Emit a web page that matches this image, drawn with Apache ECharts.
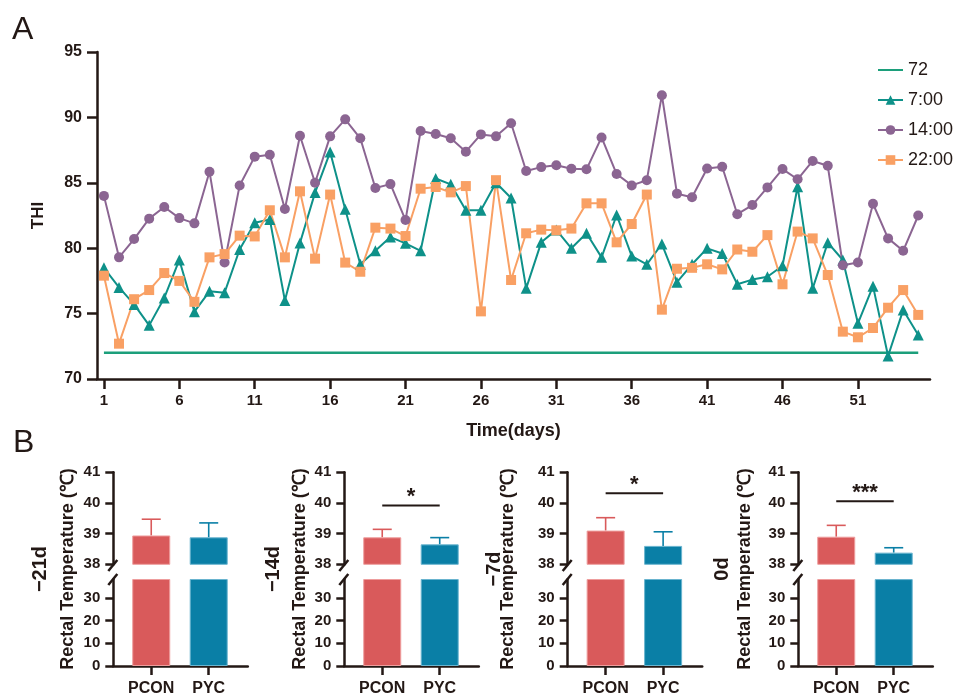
<!DOCTYPE html>
<html><head><meta charset="utf-8">
<script src="https://cdn.jsdelivr.net/npm/echarts@6/dist/echarts.min.js"></script>
<style>html,body{margin:0;padding:0;background:#fff}#c{width:956px;height:697px}</style>
</head><body><div id="c"></div>
<script>
// ---------- Panel A data ----------
const seriesNames = ['72', '7:00', '14:00', '22:00'];
const thresholdValue = 72;
const thresholdDays = [1, 55];
const dayTicks = [1, 6, 11, 16, 21, 26, 31, 36, 41, 46, 51];
const thi7 = [78.5,77.0,75.7,74.1,76.2,79.1,75.15,76.7,76.6,79.9,81.95,82.2,76.0,80.4,84.25,87.35,82.97,78.77,79.8,80.85,
  80.37,79.8,85.33,84.88,82.9,82.9,85.0,83.84,76.93,80.45,81.4,79.99,81.14,79.3,82.54,79.4,78.77,80.32,77.4,
  78.77,79.99,79.6,77.24,77.6,77.82,78.66,84.7,76.93,80.42,79.1,74.26,77.1,71.76,75.27,73.36];
const thi14 = [84.0,79.3,80.7,82.26,83.15,82.3,81.9,85.85,78.9,84.8,87.0,87.15,83.0,88.6,85.0,88.55,89.85,88.4,84.6,84.9,
  82.15,88.96,88.73,88.4,87.38,88.7,88.55,89.55,85.9,86.2,86.34,86.08,86.03,88.47,85.67,84.8,85.2,91.7,84.17,
  83.9,86.1,86.23,82.6,83.3,84.65,86.05,85.27,86.67,86.3,78.7,78.9,83.4,80.75,79.8,82.5];
const thi22 = [77.9,72.7,76.1,76.8,78.1,77.5,75.9,79.3,79.55,80.96,80.9,82.9,79.3,84.35,79.2,84.1,78.9,78.2,81.57,81.5,
  80.93,84.55,84.68,84.27,84.75,75.17,85.2,77.57,81.14,81.42,81.37,81.5,83.43,83.43,80.45,81.85,84.1,75.3,78.43,
  78.5,78.77,78.38,79.9,79.73,81.0,77.24,81.27,80.75,77.95,73.62,73.19,73.9,75.45,76.8,74.9];
const thiTicks = [70, 75, 80, 85, 90, 95];

// ---------- Panel B data ----------
const groups = ['PCON', 'PYC'];
const phases = ['\u221221d', '\u221214d', '\u22127d', '0d'];
const pconMean = [38.94, 38.88, 39.10, 38.90];
const pconUpper = [39.47, 39.14, 39.52, 39.27];
const pycMean = [38.88, 38.65, 38.60, 38.38];
const pycUpper = [39.35, 38.87, 39.06, 38.54];
const sigLabel = ['', '*', '*', '***'];
const sigLevel = [null, 39.92, 40.32, 40.06];
const upperTicks = [38, 39, 40, 41];
const lowerTicks = [0, 10, 20, 30];

// ---------- styles ----------
const INK = '#231815';
const FF = '"Liberation Sans", Arial, sans-serif';
const colors = { '72': '#1c9f7b', '7:00': '#0e9189', '14:00': '#8b6592', '22:00': '#f9a064' };
const barColors = ['#d95a5b', '#0a7fa6'];
const barBorders = ['#ee9d9d', '#69b4cf'];

const grids = [{ left: 97, top: 52, width: 833, height: 327 }];
const xAxes = [{
  type: 'value', gridIndex: 0, min: 0.54, max: 55.78,
  axisLine: { onZero: false, lineStyle: { color: INK, width: 2.5 } },
  axisTick: { customValues: dayTicks, length: 10, lineStyle: { color: INK, width: 2.5 } },
  axisLabel: { customValues: dayTicks, margin: 14, color: INK, fontSize: 15, fontWeight: 'bold', fontFamily: FF },
  splitLine: { show: false },
  name: 'Time(days)', nameLocation: 'middle', nameGap: 43,
  nameTextStyle: { color: INK, fontSize: 18, fontWeight: 'bold', fontFamily: FF }
}];
const yAxes = [{
  type: 'value', gridIndex: 0, min: 70, max: 95, interval: 5,
  axisLine: { show: true, onZero: false, lineStyle: { color: INK, width: 2.5 } },
  axisTick: { show: true, length: 10, lineStyle: { color: INK, width: 2.5 } },
  axisLabel: { customValues: thiTicks, margin: 15, color: INK, fontSize: 16, fontWeight: 'bold', fontFamily: FF },
  splitLine: { show: false },
  name: 'THI', nameLocation: 'middle', nameGap: 50, nameRotate: 90,
  nameTextStyle: { color: INK, fontSize: 17, fontWeight: 'bold', fontFamily: FF }
}];

const series = [
  { name: '72', type: 'line', xAxisIndex: 0, yAxisIndex: 0, symbol: 'none',
    data: thresholdDays.map(d => [d, thresholdValue]), color: colors['72'], lineStyle: { width: 2.5 } },
  { name: '7:00', type: 'line', xAxisIndex: 0, yAxisIndex: 0, symbol: 'triangle', symbolSize: 11,
    data: thi7.map((v, i) => [i + 1, v]), color: colors['7:00'], lineStyle: { width: 2 } },
  { name: '14:00', type: 'line', xAxisIndex: 0, yAxisIndex: 0, symbol: 'circle', symbolSize: 10,
    data: thi14.map((v, i) => [i + 1, v]), color: colors['14:00'], lineStyle: { width: 2 } },
  { name: '22:00', type: 'line', xAxisIndex: 0, yAxisIndex: 0, symbol: 'rect', symbolSize: 10,
    data: thi22.map((v, i) => [i + 1, v]), color: colors['22:00'], lineStyle: { width: 2 } }
];

const layoutB = [
  { ax: 113.3, title: 68, phase: 40 },
  { ax: 344.3, title: 300, phase: 273 },
  { ax: 567.7, title: 508, phase: 494 },
  { ax: 798.3, title: 745, phase: 722 }
];
const graphics = [
  { type: 'text', left: 12, top: 14, style: { text: 'A', fontSize: 32, fill: INK, fontFamily: FF } },
  { type: 'text', left: 13, top: 427, style: { text: 'B', fontSize: 32, fill: INK, fontFamily: FF } }
];

const axisStyle = { color: INK, width: 2.5 };
layoutB.forEach((L, p) => {
  const gU = grids.length, gL = gU + 1;
  grids.push({ left: L.ax, top: 472.3, width: 134.5, height: 92 });
  grids.push({ left: L.ax, top: 579.5, width: 134.5, height: 91.2 });
  const xBase = { type: 'value', min: -0.66, max: 1.68, splitLine: { show: false } };
  xAxes.push(Object.assign({}, xBase, { gridIndex: gU, show: false }));
  xAxes.push(Object.assign({}, xBase, {
    gridIndex: gL,
    axisLine: { onZero: false, lineStyle: axisStyle },
    axisTick: { customValues: [0, 1], length: 9, lineStyle: axisStyle },
    axisLabel: { customValues: [0, 1], formatter: v => groups[Math.round(v)], margin: 15,
      color: INK, fontSize: 16, fontWeight: 'bold', fontFamily: FF }
  }));
  const yLab = { margin: 13, color: INK, fontSize: 15, fontWeight: 'bold', fontFamily: FF };
  yAxes.push({ type: 'value', gridIndex: gU, min: 38, max: 41, interval: 1, splitLine: { show: false },
    axisLine: { show: true, onZero: false, lineStyle: axisStyle },
    axisTick: { show: true, length: 8, lineStyle: axisStyle },
    axisLabel: Object.assign({ customValues: upperTicks }, yLab) });
  yAxes.push({ type: 'value', gridIndex: gL, min: 0, max: 38.2, splitLine: { show: false },
    axisLine: { show: true, onZero: false, lineStyle: axisStyle },
    axisTick: { show: true, length: 8, customValues: lowerTicks, lineStyle: axisStyle },
    axisLabel: Object.assign({ customValues: lowerTicks }, yLab) });

  const means = [pconMean[p], pycMean[p]];
  const uppers = [pconUpper[p], pycUpper[p]];
  const barData = means.map((m, i) => ({ value: [i, m],
    itemStyle: { color: barColors[i], borderColor: barBorders[i], borderWidth: 1 } }));
  [gU, gL].forEach(g => series.push({ type: 'bar', xAxisIndex: g, yAxisIndex: g, barWidth: 38,
    data: barData, clip: true, silent: true }));
  series.push({ type: 'custom', xAxisIndex: gU, yAxisIndex: gU, clip: false, silent: true,
    data: means.map((m, i) => [i, m, uppers[i]]),
    renderItem: (params, api) => {
      const i = api.value(0);
      const a = api.coord([i, api.value(1)]);
      const b = api.coord([i, api.value(2)]);
      const st = { stroke: barColors[i], lineWidth: 1.6 };
      return { type: 'group', children: [
        { type: 'line', shape: { x1: a[0], y1: a[1], x2: b[0], y2: b[1] }, style: st },
        { type: 'line', shape: { x1: b[0] - 9.5, y1: b[1], x2: b[0] + 9.5, y2: b[1] }, style: st }
      ] };
    } });
  if (sigLevel[p] !== null) {
    series.push({ type: 'custom', xAxisIndex: gU, yAxisIndex: gU, clip: false, silent: true,
      data: [[0, 1, sigLevel[p]]],
      renderItem: (params, api) => {
        const a = api.coord([api.value(0), api.value(2)]);
        const b = api.coord([api.value(1), api.value(2)]);
        return { type: 'group', children: [
          { type: 'line', shape: { x1: a[0], y1: a[1], x2: b[0], y2: b[1] }, style: { stroke: INK, lineWidth: 2 } },
          { type: 'text', x: (a[0] + b[0]) / 2, y: a[1] - 8,
            style: { text: sigLabel[p], fontSize: 22, fontWeight: 'bold', fill: INK, fontFamily: FF,
              align: 'center', verticalAlign: 'middle' } }
        ] };
      } });
  }
  // axis break marks
  [[571, 560], [585, 574]].forEach(([y1, y2]) => graphics.push({ type: 'line',
    shape: { x1: L.ax - 5, y1: y1, x2: L.ax + 4, y2: y2 }, style: { stroke: INK, lineWidth: 2.5 } }));
  graphics.push({ type: 'text', x: L.title, y: 569, rotation: Math.PI / 2,
    style: { text: 'Rectal Temperature (\u2103)', fontSize: 18, fontWeight: 'bold', fill: INK, fontFamily: FF,
      align: 'center', verticalAlign: 'middle' } });
  graphics.push({ type: 'text', x: L.phase, y: 569, rotation: Math.PI / 2,
    style: { text: phases[p], fontSize: 20, fontWeight: 'bold', fill: INK, fontFamily: FF,
      align: 'center', verticalAlign: 'middle' } });
});

const chart = echarts.init(document.getElementById('c'), null, { renderer: 'canvas' });
chart.setOption({
  animation: false,
  backgroundColor: '#fff',
  grid: grids, xAxis: xAxes, yAxis: yAxes, series: series,
  legend: {
    data: [{ name: '72', itemStyle: { opacity: 0 } }, '7:00', '14:00', '22:00'],
    orient: 'vertical', left: 872, top: 56, itemWidth: 25, itemHeight: 12, itemGap: 12,
    textStyle: { color: INK, fontSize: 18, fontFamily: FF } },
  graphic: graphics
});
</script></body></html>
